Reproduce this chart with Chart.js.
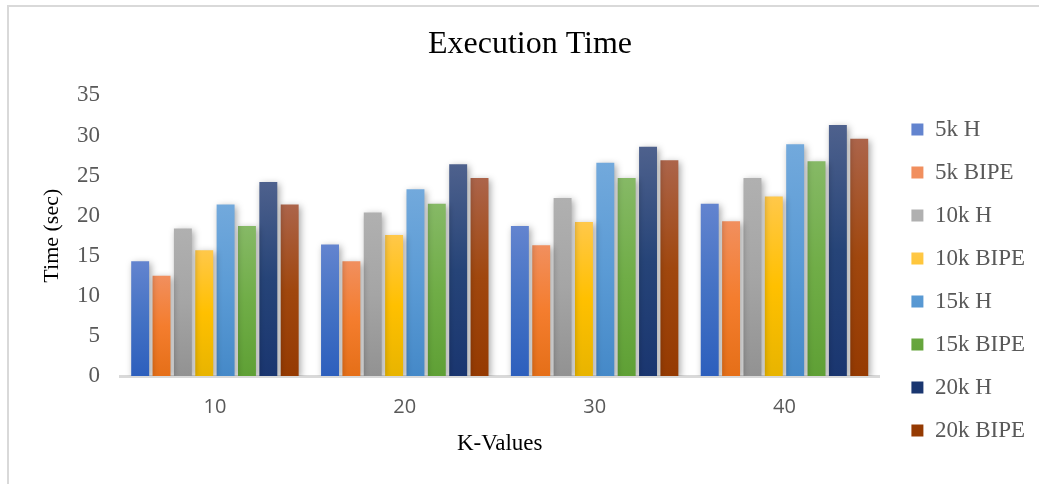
<!DOCTYPE html>
<html>
<head>
<meta charset="utf-8">
<script src="https://cdn.jsdelivr.net/npm/chart.js@4"></script>
<style>
  html, body { margin: 0; padding: 0; background: #fff; }
  #wrap { position: relative; width: 1039px; height: 484px; overflow: hidden; }
  #frame { position: absolute; left: 7px; top: 5px; width: 1100px; height: 600px;
           border-left: 2px solid #d9d9d9; border-top: 2px solid #d9d9d9; }
  #Canvasnya { position: absolute; left: 0; top: 0; }
</style>
</head>
<body>
<div id="wrap">
  <div id="frame"></div>
  <canvas id="Canvasnya" width="1039" height="484"></canvas>
</div>
<script>
// K values on the x axis
var kValues = ['10', '20', '30', '40'];

// execution time (sec)
var h5k     = [14.3, 16.4, 18.7, 21.5];
var bipe5k  = [12.5, 14.3, 16.3, 19.3];
var h10k    = [18.4, 20.4, 22.2, 24.7];
var bipe10k = [15.7, 17.6, 19.2, 22.4];
var h15k    = [21.4, 23.3, 26.6, 28.9];
var bipe15k = [18.7, 21.5, 24.7, 26.8];
var h20k    = [24.2, 26.4, 28.6, 31.3];
var bipe20k = [21.4, 24.7, 26.9, 29.6];

var yTicks = [0, 5, 10, 15, 20, 25, 30, 35];

// [top, middle, bottom] shades for the office-like gradient
var shades = {
    '5k H':     ['#6384cf', '#4472c4', '#2d5fbd'],
    '5k BIPE':  ['#f18f5e', '#f47d2e', '#e56f18'],
    '10k H':    ['#b0b0b0', '#a5a5a5', '#929292'],
    '10k BIPE': ['#ffc84a', '#ffc000', '#e8b400'],
    '15k H':    ['#72a9dc', '#5b9bd5', '#4589c8'],
    '15k BIPE': ['#86b966', '#70ad47', '#5fa035'],
    '20k H':    ['#4e618d', '#264478', '#1a3670'],
    '20k BIPE': ['#ac644a', '#a0470e', '#953a02']
};

function barFill(name) {
    return function (c) {
        var chart = c.chart;
        var col = shades[name];
        if (!chart.chartArea || c.raw === undefined) return col[1];
        var y = chart.scales.y;
        var top = y.getPixelForValue(c.raw);
        var bot = y.getPixelForValue(0);
        if (!isFinite(top) || bot - top < 1) return col[1];
        var g = chart.ctx.createLinearGradient(0, top, 0, bot);
        g.addColorStop(0, col[0]);
        g.addColorStop(0.5, col[1]);
        g.addColorStop(1, col[2]);
        return g;
    };
}

function ds(name, values) {
    return {
        label: name,
        data: values,
        backgroundColor: barFill(name),
        borderWidth: 0,
        categoryPercentage: 0.9,
        barPercentage: 0.84
    };
}

var barShadow = {
    id: 'barShadow',
    beforeDatasetsDraw: function (chart) {
        var ctx = chart.ctx;
        ctx.save();
        ctx.shadowColor = 'rgba(0,0,0,0.35)';
        ctx.shadowBlur = 7;
        ctx.shadowOffsetX = 2;
        ctx.shadowOffsetY = 2;
    },
    afterDatasetsDraw: function (chart) {
        chart.ctx.restore();
    }
};

var serif = '"Liberation Serif", "Times New Roman", serif';

var GKChart = document.getElementById('Canvasnya').getContext('2d');
var dataChart = new Chart(GKChart, {
    type: 'bar',
    data: {
        labels: kValues,
        datasets: [
            ds('5k H', h5k),
            ds('5k BIPE', bipe5k),
            ds('10k H', h10k),
            ds('10k BIPE', bipe10k),
            ds('15k H', h15k),
            ds('15k BIPE', bipe15k),
            ds('20k H', h20k),
            ds('20k BIPE', bipe20k)
        ]
    },
    plugins: [barShadow],
    options: {
        responsive: false,
        animation: false,
        layout: { padding: { left: 25, right: 4, top: 0, bottom: 0 } },
        plugins: {
            title: {
                display: true,
                text: 'Execution Time',
                color: '#000',
                font: { family: serif, size: 32, weight: 'normal' },
                padding: { top: 25, bottom: 32 }
            },
            legend: {
                position: 'right',
                align: 'start',
                title: { display: true, text: '', font: { size: 10 }, padding: { top: 86, bottom: 0 } },
                labels: {
                    boxWidth: 12,
                    boxHeight: 12,
                    padding: 20,
                    color: '#595959',
                    font: { family: serif, size: 23 }
                }
            },
            tooltip: { enabled: false }
        },
        scales: {
            x: {
                afterFit: function (s) { s.height = 108; },
                grid: { display: false, drawTicks: false },
                border: { display: true, color: '#d9d9d9', width: 3 },
                ticks: {
                    color: '#595959',
                    padding: 19,
                    font: { family: '"Open Sans", sans-serif', size: 20 }
                },
                title: {
                    display: true,
                    text: 'K-Values',
                    color: '#000',
                    font: { family: serif, size: 23 },
                    padding: { top: 11, bottom: 26 }
                }
            },
            y: {
                min: 0,
                max: 35,
                afterBuildTicks: function (s) {
                    s.ticks = yTicks.map(function (v) { return { value: v }; });
                },
                afterFit: function (s) { s.width = 95; },
                grid: { display: false, drawTicks: false },
                border: { display: false },
                ticks: {
                    color: '#595959',
                    padding: 20,
                    font: { family: serif, size: 23 }
                },
                title: {
                    display: true,
                    text: 'Time (sec)',
                    color: '#000',
                    font: { family: serif, size: 22 },
                    padding: { top: 14, bottom: 0 }
                }
            },
            // empty right axis: keeps a gap between plot and legend
            gap: {
                position: 'right',
                display: true,
                grid: { display: false, drawTicks: false },
                border: { display: false },
                ticks: { display: false },
                afterFit: function (s) { s.width = 12; }
            }
        }
    }
});
</script>
</body>
</html>
